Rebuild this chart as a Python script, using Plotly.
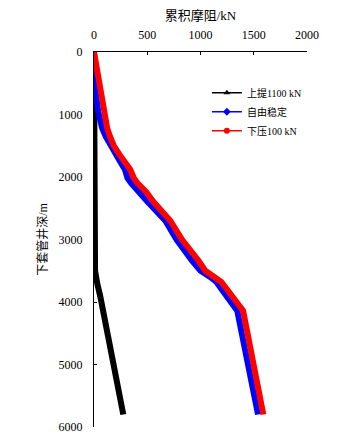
import plotly.graph_objects as go

# Data (depth in m, cumulative friction in kN)
black_depth = [0, 1000, 2000, 3000, 3500, 3700, 3920, 5800]
black_val = [0, 4, 6, 8, 10, 30, 60, 275]

blue_depth = [0, 400, 700, 960, 1220, 1350, 1500, 1630, 1760, 1880, 2020, 2100, 2240, 2400,
              2700, 3000, 3340, 3500, 3600, 3680, 3800, 4080, 4140, 5800]
blue_val = [0, 8, 20, 40, 77, 110, 155, 195, 248, 290, 315, 350, 420, 505,
            670, 775, 920, 1000, 1090, 1150, 1200, 1310, 1345, 1540]

red_depth = blue_depth
red_val = [0, 39, 65, 92, 124, 150, 186, 235, 295, 340, 375, 410, 490, 560,
           717, 826, 982, 1045, 1130, 1195, 1250, 1370, 1400, 1590]

names = ["上提1100 kN", "自由稳定", "下压100 kN"]
colors = ["#000000", "#0000FF", "#FF0000"]
symbols = ["triangle-up", "diamond", "circle"]

x_ticks = [0, 500, 1000, 1500, 2000]
y_ticks = [0, 1000, 2000, 3000, 4000, 5000, 6000]

font_family = "Liberation Serif, Noto Sans CJK SC, serif"

fig = go.Figure()
series = [(black_val, black_depth), (blue_val, blue_depth), (red_val, red_depth)]
for (xv, yv), c in zip(series, colors):
    fig.add_trace(go.Scatter(x=xv, y=yv, mode="lines",
                             line=dict(color=c, width=6),
                             showlegend=False, hoverinfo="skip"))
# legend entries with thin line + marker
for n, c, s in zip(names, colors, symbols):
    fig.add_trace(go.Scatter(x=[None], y=[None], mode="lines+markers", name=n,
                             line=dict(color=c, width=1.5),
                             marker=dict(color=c, symbol=s, size=6)))

fig.update_layout(
    width=364, height=444,
    margin=dict(l=85.5, r=65, t=43.5, b=25),
    paper_bgcolor="white", plot_bgcolor="white",
    font=dict(family=font_family, size=12, color="#000"),
    legend=dict(x=0.53, y=0.93, xanchor="left", yanchor="top",
                font=dict(size=10, family=font_family),
                bgcolor="rgba(0,0,0,0)", tracegroupgap=0),
    xaxis=dict(side="top", range=[0, 2000], tickvals=x_ticks,
               ticks="inside", ticklen=3, tickcolor="#000",
               showline=True, linecolor="#000", linewidth=1,
               showgrid=False, zeroline=False, automargin=False,
               ticklabelstandoff=7,
               title=dict(text="累积摩阻/kN", font=dict(size=13), standoff=4),
               tickfont=dict(size=12)),
    yaxis=dict(range=[6000, 0], tickvals=y_ticks,
               ticks="inside", ticklen=3, tickcolor="#000",
               showline=True, linecolor="#000", linewidth=1,
               showgrid=False, zeroline=False, automargin=False,
               ticklabelstandoff=8,
               title=dict(text="下套管井深/m", font=dict(size=12), standoff=8),
               tickfont=dict(size=12)),
)

fig.write_html("out.html")
